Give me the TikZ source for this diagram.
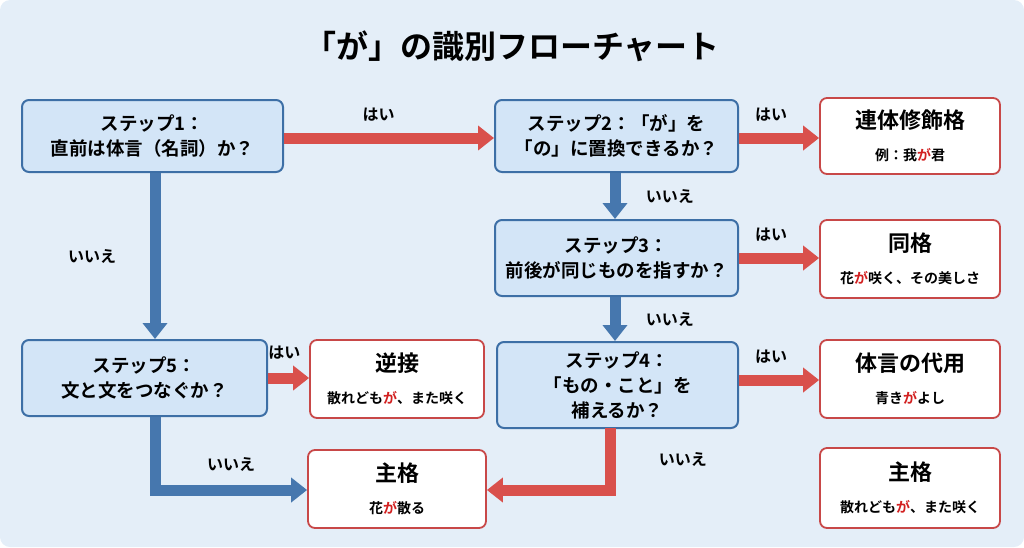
\documentclass[tikz,border=0pt]{standalone}
\usepackage{fontspec}
\setmainfont{Noto Sans CJK JP}[BoldFont={* Bold}]
\usetikzlibrary{arrows.meta}
\definecolor{bg}{HTML}{E4EEF8}
\definecolor{bfill}{HTML}{D3E5F7}
\definecolor{bdraw}{HTML}{3D6FA6}
\definecolor{rdraw}{HTML}{C84848}
\definecolor{rarr}{HTML}{D9504C}
\definecolor{barr}{HTML}{4677AE}
\definecolor{kred}{HTML}{D22020}
\newcommand{\rtt}[1]{{\bfseries\fontsize{22}{28}\selectfont #1}}
\newcommand{\rss}[1]{{\bfseries\fontsize{14}{18}\selectfont #1}}
\begin{document}
\begin{tikzpicture}[x=1pt,y=-1pt,
 stp/.style={draw=bdraw,fill=bfill,line width=2pt,rounded corners=7pt,align=center,font=\bfseries\fontsize{18.5}{25}\selectfont,inner sep=0pt},
 res/.style={draw=rdraw,fill=white,line width=1.8pt,rounded corners=7pt,align=center,inner sep=0pt,font=\bfseries\fontsize{22}{28}\selectfont},
 ra/.style={rarr,line width=11pt,-{Triangle[width=24pt,length=16pt]}},
 ba/.style={barr,line width=11pt,-{Triangle[width=24pt,length=16pt]}},
 lab/.style={font=\bfseries\fontsize{16}{20}\selectfont}]
\useasboundingbox (0,0) rectangle (1024,547);
\fill[bg,rounded corners=10pt] (0,0) rectangle (1024,547);
\node (title) at (512,46) {\bfseries\fontsize{32}{38}\selectfont 「が」の識別フローチャート};
\node[stp,minimum width=261pt,minimum height=72pt] (s1) at (152.5,136) {ステップ1：\\直前は体言（名詞）か？};
\node[stp,minimum width=243pt,minimum height=72pt] (s2) at (616.5,136) {ステップ2：「が」を\\「の」に置換できるか？};
\node[stp,minimum width=243pt,minimum height=76pt] (s3) at (616.5,258) {ステップ3：\\前後が同じものを指すか？};
\node[stp,minimum width=241pt,minimum height=86pt] (s4) at (617.5,385) {ステップ4：\\「もの・こと」を\\補えるか？};
\node[stp,minimum width=245pt,minimum height=76pt] (s5) at (144.5,378) {ステップ5：\\文と文をつなぐか？};
\node[res,minimum width=180pt,minimum height=76pt] (r1) at (910,136) {\rtt{連体修飾格}\\[4pt]\rss{例：我{\color{kred}が}君}};
\node[res,minimum width=180pt,minimum height=78pt] (r2) at (910,259) {\rtt{同格}\\[4pt]\rss{花{\color{kred}が}咲く、その美しさ}};
\node[res,minimum width=180pt,minimum height=78pt] (r3) at (910,379) {\rtt{体言の代用}\\[4pt]\rss{青き{\color{kred}が}よし}};
\node[res,minimum width=180pt,minimum height=80pt] (r4) at (910,488) {\rtt{主格}\\[4pt]\rss{散れども{\color{kred}が}、また咲く}};
\node[res,minimum width=174pt,minimum height=78pt] (gyaku) at (397,379) {\rtt{逆接}\\[4pt]\rss{散れども{\color{kred}が}、また咲く}};
\node[res,minimum width=178pt,minimum height=78pt] (shu) at (397,489) {\rtt{主格}\\[4pt]\rss{花{\color{kred}が}散る}};
\draw[ra] (s1.east|-0,138) -- (s2.west|-0,138) node[lab,black,pos=0.45,above=8pt]{はい};
\draw[ra] (s2.east|-0,138) -- (r1.west|-0,138) node[lab,black,pos=0.4,above=8pt]{はい};
\draw[ra] (s3) -- (r2.west|-s3) node[lab,black,pos=0.4,above=8pt]{はい};
\draw[ra] (s4.east|-0,380) -- (r3.west|-0,380) node[lab,black,pos=0.4,above=8pt]{はい};
\draw[ra] (s5.east|-0,378) -- (gyaku.west|-0,378) node[lab,black,pos=0.4,above=10pt]{はい};
\draw[ra] (610,428) |- (shu.east|-0,490) node[lab,black,pos=0.25,right=40pt]{いいえ};
\draw[ba] (s1.south-|155,0) -- (s5.north-|155,0) node[lab,black,midway,left=30pt]{いいえ};
\draw[ba] (s2.south-|615,0) -- (s3.north-|615,0) node[lab,black,midway,right=22pt]{いいえ};
\draw[ba] (s3.south-|615,0) -- (s4.north-|615,0) node[lab,black,midway,right=22pt]{いいえ};
\draw[ba] (s5.south-|155,0) |- (shu.west|-0,490) node[lab,black,pos=0.75,above=10pt]{いいえ};
\end{tikzpicture}
\end{document}
